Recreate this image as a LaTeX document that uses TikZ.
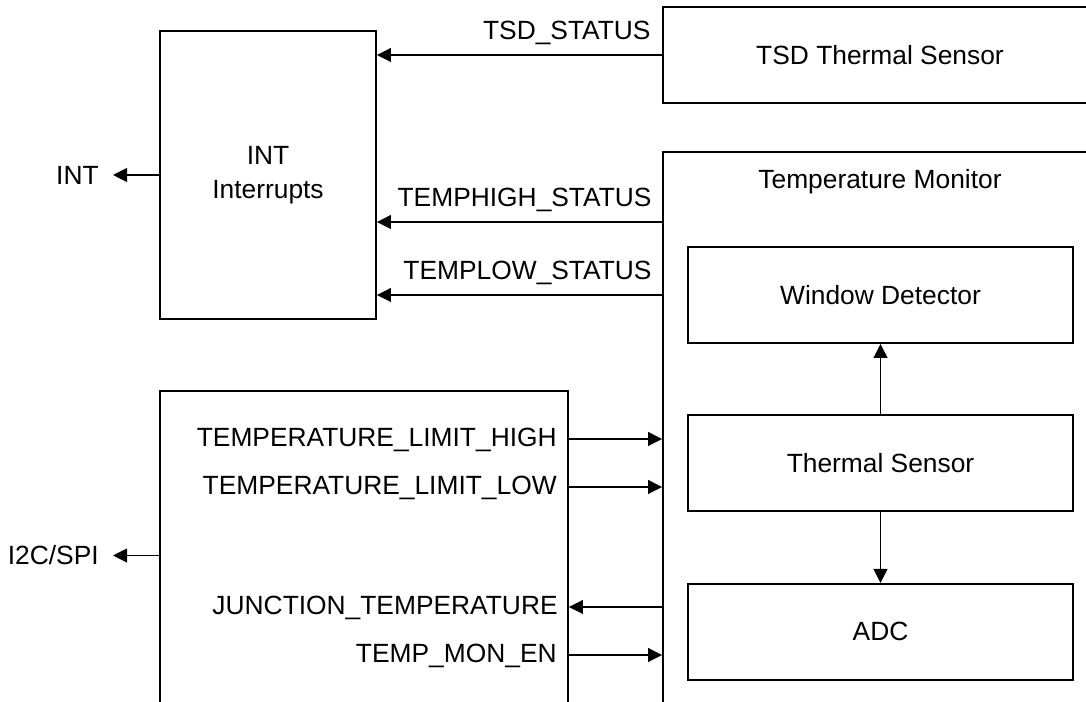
\documentclass[tikz,border=0pt]{standalone}
\usepackage{fontspec}
\setmainfont{Liberation Sans}
\usetikzlibrary{positioning,arrows.meta}

\begin{document}
\begin{tikzpicture}[>={Triangle[length=2.8mm,width=2.8mm]},
    font=\fontsize{15}{19}\selectfont,
    blk/.style={draw=black, line width=1.1pt, align=center, inner sep=0pt},
    inblk/.style={blk, minimum width=7.7cm, minimum height=1.92cm},
    sig/.style={->, line width=0.6pt},
    % labels sitting above a line, or level with it
    uplab/.style={anchor=base east, inner sep=0pt, xshift=-2.2mm, yshift=3.1mm},
    inlab/.style={anchor=base east, inner sep=0pt, xshift=-2.2mm, yshift=-1.6mm},
    pinlab/.style={inner ysep=0pt, inner xsep=2.8mm}]

  \useasboundingbox (0,0) rectangle (21.72,14.04);
  \fill[white] (0,0) rectangle (21.72,14.04);

  % ---- blocks on the right
  \node[blk, minimum width=8.68cm, minimum height=1.92cm] (tsd) at (17.6,12.94)
    {TSD Thermal Sensor};
  \node[blk, minimum width=8.68cm, minimum height=11.36cm] (mon) at (17.6,5.32) {};
  \node[anchor=base, inner sep=0pt] (montitle) at (17.6,10.27) {Temperature Monitor};
  \node[inblk] (wd) at (17.61,8.14) {Window Detector};
  \node[inblk, below=1.40cm of wd] (ts) {Thermal Sensor};
  \node[inblk, below=1.42cm of ts] (adc) {ADC};

  % ---- blocks on the left
  \node[blk, minimum width=4.32cm, minimum height=5.76cm] (intr) at (5.36,10.54)
    {INT\\Interrupts};
  \node[blk, minimum width=8.16cm, minimum height=6.58cm] (regs) at (7.28,2.93) {};

  % ---- pins
  \node[pinlab, left=0.92cm of intr.west] (intpin) {INT};
  \node[pinlab, left=0.92cm of regs.west] (buspin) {I2C/SPI};
  \draw[sig] (intr.west) -- (intpin);
  \draw[sig] (regs.west) -- (buspin);

  % ---- status lines into the interrupt block
  \coordinate (hi) at (13.26,9.6);
  \coordinate (lo) at (13.26,8.14);
  \draw[sig] (tsd.west) -- node[pos=0, uplab] {TSD\_STATUS} (tsd.west -| intr.east);
  \draw[sig] (hi) -- node[pos=0, uplab] {TEMPHIGH\_STATUS} (hi -| intr.east);
  \draw[sig] (lo) -- node[pos=0, uplab] {TEMPLOW\_STATUS} (lo -| intr.east);

  % ---- register lines
  \coordinate (limhi) at (11.36,5.26);
  \coordinate (limlo) at (11.36,4.30);
  \coordinate (junc) at (13.26,1.90);
  \coordinate (monen) at (11.36,0.94);
  \draw[sig] (limhi) -- (limhi -| mon.west);
  \node[inlab] at (limhi) {TEMPERATURE\_LIMIT\_HIGH};
  \draw[sig] (limlo) -- (limlo -| mon.west);
  \node[inlab] at (limlo) {TEMPERATURE\_LIMIT\_LOW};
  \draw[sig] (junc) -- (junc -| regs.east);
  \node[inlab] at (junc -| regs.east) {JUNCTION\_TEMPERATURE};
  \draw[sig] (monen) -- (monen -| mon.west);
  \node[inlab] at (monen) {TEMP\_MON\_EN};

  % ---- inside the monitor
  \draw[sig] (ts) -- (wd);
  \draw[sig] (ts) -- (adc);
\end{tikzpicture}
\end{document}
